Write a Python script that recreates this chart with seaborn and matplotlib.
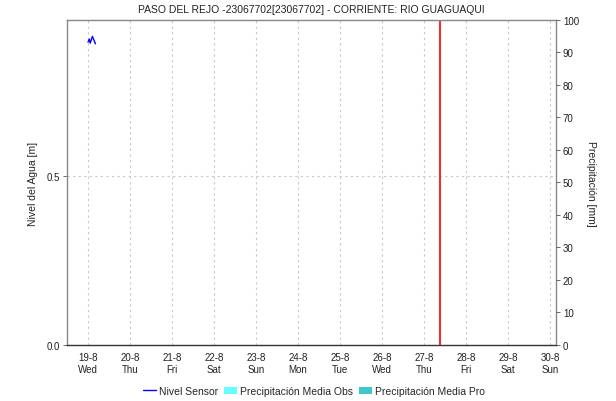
import pandas as pd
import seaborn as sns
import matplotlib.pyplot as plt
from matplotlib.lines import Line2D
from matplotlib.patches import Patch

# Sensor readings (water level, m)
sensor_times = ["2020-08-19 00:00", "2020-08-19 00:45", "2020-08-19 01:15",
                "2020-08-19 02:30", "2020-08-19 04:15"]
sensor_levels = [0.896, 0.905, 0.893, 0.913, 0.891]

# Current time marker
now_time = "2020-08-27 09:00"

# Axis setup
day_ticks = pd.date_range("2020-08-19", "2020-08-30", freq="D")
day_labels = [f"{d.day}-{d.month}\n{d.strftime('%a')}" for d in day_ticks]
x_start = "2020-08-18 12:00"
x_end = "2020-08-30 03:30"
level_ticks = [0.0, 0.5]
precip_ticks = list(range(0, 101, 10))

sensor = pd.DataFrame({"time": pd.to_datetime(sensor_times), "level": sensor_levels})

sns.set_style("white")
plt.rcParams["font.family"] = ["Liberation Sans", "DejaVu Sans"]

fig = plt.figure(figsize=(6.16, 4.02), dpi=100)
ax = fig.add_axes([0.1088, 0.1393, 0.7938, 0.8085])

sns.lineplot(data=sensor, x="time", y="level", color="#0000ff", linewidth=1, ax=ax)
ax.axvline(pd.Timestamp(now_time), color="#ff0000", linewidth=1.2)

ax.set_xlim(pd.Timestamp(x_start), pd.Timestamp(x_end))
ax.set_ylim(0, 0.9615)
ax.set_xticks(day_ticks)
ax.set_xticklabels(day_labels, fontsize=7, color="#222222")
ax.set_yticks(level_ticks)
ax.set_yticklabels(["0.0", "0.5"], fontsize=7, color="#222222")
ax.tick_params(axis="x", length=0, pad=5)
ax.tick_params(axis="y", length=3, width=0.6, color="#555555", direction="out", pad=2)
ax.grid(True, linestyle=(0, (2, 3)), color="#c8c8c8", linewidth=0.8)
ax.set_xlabel("")
ax.set_ylabel("Nivel del Agua [m]", fontsize=7.5, color="#222222", labelpad=6)

for side in ["top", "left", "right"]:
    ax.spines[side].set_color("#888888")
    ax.spines[side].set_linewidth(1)
ax.spines["bottom"].set_color("#333333")
ax.spines["bottom"].set_linestyle((0, (1, 1)))
ax.spines["bottom"].set_linewidth(1)

ax2 = ax.twinx()
ax2.set_ylim(0, 100)
ax2.set_yticks(precip_ticks)
ax2.set_yticklabels([str(t) for t in precip_ticks], fontsize=7, color="#222222")
ax2.tick_params(axis="y", length=3, width=0.6, color="#555555", direction="out", pad=2)
ax2.set_ylabel("Precipitación [mm]", fontsize=7.5, color="#222222", rotation=270, labelpad=12)
for side in ["top", "left", "right", "bottom"]:
    ax2.spines[side].set_visible(False)

ax.set_title("PASO DEL REJO -23067702[23067702] - CORRIENTE: RIO GUAGUAQUI",
             fontsize=7.5, color="#222222", pad=6)

handles = [
    Line2D([0], [0], color="#0000ff", linewidth=1),
    Patch(facecolor="#66ffff", edgecolor="none"),
    Patch(facecolor="#40c8c8", edgecolor="none"),
]
labels = ["Nivel Sensor", "Precipitación Media Obs", "Precipitación Media Pro"]
fig.legend(handles, labels, loc="center", bbox_to_anchor=(0.51, 0.025), ncol=3,
           frameon=False, fontsize=7.5, handlelength=1.2, handletextpad=0.3,
           columnspacing=0.6, borderpad=0)

fig.savefig("out.png", dpi=100)
